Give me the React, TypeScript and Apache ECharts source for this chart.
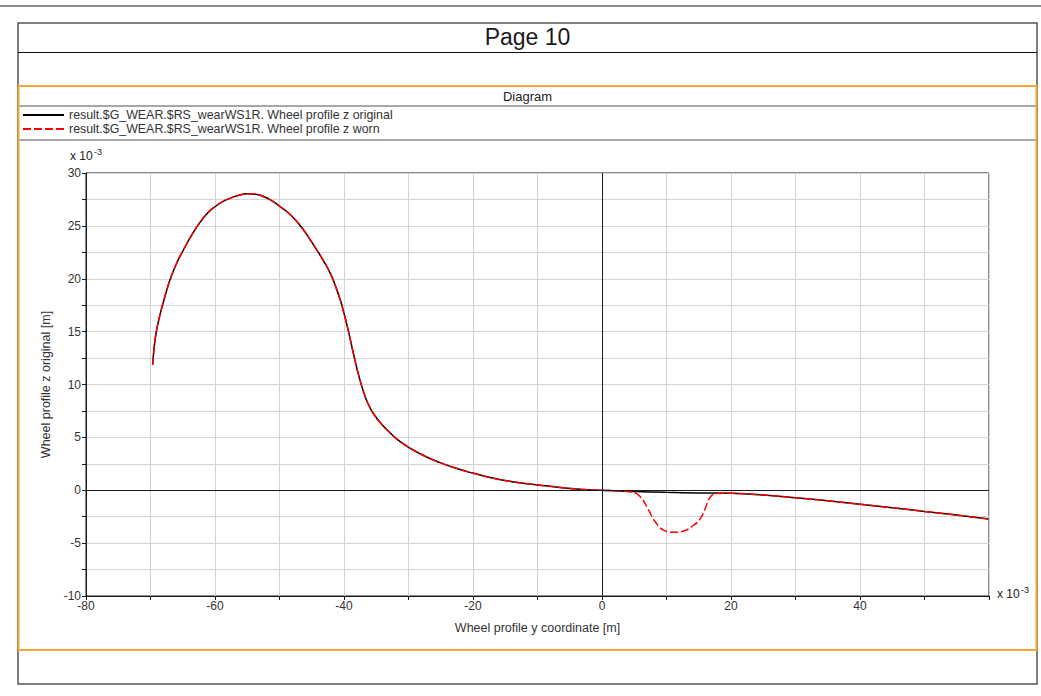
import React, { useEffect, useRef } from "react";
import * as echarts from "echarts";

// Wheel profile y coordinate (x 10^-3 m) and z (x 10^-3 m)
const origY = [
  -69.67, -69.5, -69.25, -68.9, -68.4, -67.8, -67.0, -66.0, -64.9, -63.6, -62.3, -61.1, -59.95,
  -58.8, -57.6, -56.3, -55.0, -53.7, -52.5, -51.4, -49.9, -48.3, -46.5, -45.2, -44.2, -43.2,
  -42.1, -41.35, -40.6, -40.05, -39.5, -39.0, -38.5, -37.7, -36.7, -36.0, -35.4, -34.4, -33.3,
  -31.3, -28.2, -25.1, -22.0, -19.9, -16.8, -13.7, -9.9, -6.5, -3.4, 0, 2.8, 5.0, 10.0, 15.0,
  20.0, 25.0, 30.0, 35.0, 40.0, 45.0, 50.0, 55.0, 59.9,
];
const origZ = [
  11.85, 13.1, 14.4, 15.6, 16.9, 18.25, 19.85, 21.4, 22.72, 24.15, 25.35, 26.25, 26.83, 27.3,
  27.62, 27.9, 28.03, 28.0, 27.78, 27.45, 26.83, 26.05, 24.8, 23.64, 22.71, 21.72, 20.48, 19.36,
  18.03, 16.84, 15.52, 14.2, 12.82, 10.82, 8.82, 7.84, 7.21, 6.41, 5.7, 4.6, 3.45, 2.61, 1.96,
  1.6, 1.13, 0.79, 0.5, 0.26, 0.1, 0, -0.08, -0.12, -0.2, -0.25, -0.29, -0.45, -0.7, -1.0, -1.32,
  -1.65, -2.0, -2.35, -2.72,
];
const wornY = [
  -69.67, -69.5, -69.25, -68.9, -68.4, -67.8, -67.0, -66.0, -64.9, -63.6, -62.3, -61.1, -59.95,
  -58.8, -57.6, -56.3, -55.0, -53.7, -52.5, -51.4, -49.9, -48.3, -46.5, -45.2, -44.2, -43.2,
  -42.1, -41.35, -40.6, -40.05, -39.5, -39.0, -38.5, -37.7, -36.7, -36.0, -35.4, -34.4, -33.3,
  -31.3, -28.2, -25.1, -22.0, -19.9, -16.8, -13.7, -9.9, -6.5, -3.4, 0, 2.8, 4.6, 5.94, 7.22,
  8.26, 9.55, 11.1, 12.65, 14.2, 15.24, 16.0, 16.8, 17.8, 20.0, 25.0, 30.0, 35.0, 40.0, 45.0,
  50.0, 55.0, 59.9,
];
const wornZ = [
  11.85, 13.1, 14.4, 15.6, 16.9, 18.25, 19.85, 21.4, 22.72, 24.15, 25.35, 26.25, 26.83, 27.3,
  27.62, 27.9, 28.03, 28.0, 27.78, 27.45, 26.83, 26.05, 24.8, 23.64, 22.71, 21.72, 20.48, 19.36,
  18.03, 16.84, 15.52, 14.2, 12.82, 10.82, 8.82, 7.84, 7.21, 6.41, 5.7, 4.6, 3.45, 2.61, 1.96,
  1.6, 1.13, 0.79, 0.5, 0.26, 0.1, 0, -0.08, -0.17, -0.62, -1.88, -2.98, -3.77, -3.98, -3.85,
  -3.31, -2.68, -1.73, -0.63, -0.31, -0.29, -0.45, -0.7, -1.0, -1.32, -1.65, -2.0, -2.35, -2.72,
];

const seriesNames = [
  "result.$G_WEAR.$RS_wearWS1R. Wheel profile z original",
  "result.$G_WEAR.$RS_wearWS1R. Wheel profile z worn",
];
const pageTitle = "Page 10";
const panelTitle = "Diagram";
const xName = "Wheel profile y coordinate [m]";
const yName = "Wheel profile z original [m]";
const scaleText = "x 10";
const scaleExp = "-3";

const FONT = "'Liberation Sans', Arial, Helvetica, sans-serif";

export default function App() {
  const ref = useRef<HTMLDivElement>(null);

  useEffect(() => {
    if (!ref.current) return;
    const chart = echarts.init(ref.current, undefined, { renderer: "svg" });
    const zip = (a: number[], b: number[]) => a.map((v, i) => [v, b[i]]);

    const option: any = {
      animation: false,
      textStyle: { fontFamily: FONT },
      grid: {
        left: 86,
        top: 173,
        width: 903,
        height: 423,
        show: true,
        borderColor: "#1a1a1a",
        borderWidth: 1,
        backgroundColor: "transparent",
      },
      legend: {
        orient: "vertical",
        left: 22,
        top: 108,
        padding: 0,
        itemWidth: 41,
        itemHeight: 14,
        itemGap: 0,
        selectedMode: false,
        itemStyle: { opacity: 0 },
        textStyle: { fontSize: 12.4, color: "#333", fontFamily: FONT, lineHeight: 14 },
        data: seriesNames,
      },
      xAxis: {
        type: "value",
        min: -80,
        max: 60,
        interval: 10,
        name: xName,
        nameLocation: "middle",
        nameGap: 25,
        nameTextStyle: { fontSize: 12.5, color: "#333", fontFamily: FONT },
        axisLine: { show: true, onZero: false, lineStyle: { color: "#1a1a1a", width: 1 } },
        axisTick: { show: true, inside: false, length: 4, lineStyle: { color: "#1a1a1a" } },
        axisLabel: {
          margin: 4,
          fontSize: 12,
          color: "#333",
          fontFamily: FONT,
          showMinLabel: true,
          showMaxLabel: true,
          formatter: (v: number) => (v % 20 === 0 && v <= 40 ? String(v) : ""),
        },
        splitLine: { show: true, lineStyle: { color: "#d4d4d4", width: 1 } },
      },
      yAxis: {
        type: "value",
        min: -10,
        max: 30,
        interval: 2.5,
        name: yName,
        nameLocation: "middle",
        nameGap: 30,
        nameTextStyle: { fontSize: 12.5, color: "#333", fontFamily: FONT },
        axisLine: { show: true, onZero: false, lineStyle: { color: "#1a1a1a", width: 1 } },
        axisTick: { show: true, inside: false, length: 4, lineStyle: { color: "#1a1a1a" } },
        axisLabel: {
          margin: 5,
          fontSize: 12,
          color: "#333",
          fontFamily: FONT,
          showMinLabel: true,
          showMaxLabel: true,
          formatter: (v: number) => (v % 5 === 0 ? String(v) : ""),
        },
        splitLine: { show: true, lineStyle: { color: "#d4d4d4", width: 1 } },
      },
      series: [
        {
          name: seriesNames[0],
          type: "line",
          data: zip(origY, origZ),
          symbol: "none",
          smooth: 0.5,
          lineStyle: { color: "#000", width: 1.5, type: "solid" },
          itemStyle: { color: "#000" },
          z: 3,
          markLine: {
            silent: true,
            symbol: "none",
            label: { show: false },
            lineStyle: { color: "#1a1a1a", type: "solid", width: 1 },
            data: [{ xAxis: 0 }, { yAxis: 0 }],
          },
        },
        {
          name: seriesNames[1],
          type: "line",
          data: zip(wornY, wornZ),
          symbol: "none",
          smooth: 0.5,
          lineStyle: { color: "#ff0000", width: 1.5, type: [8, 3] },
          itemStyle: { color: "#ff0000" },
          z: 4,
        },
      ],
      graphic: [
        { type: "line", silent: true, shape: { x1: 0, y1: 6, x2: 1041, y2: 6 }, style: { stroke: "#8a8a8a", lineWidth: 2 } },
        { type: "rect", silent: true, shape: { x: 18, y: 23, width: 1019, height: 661 }, style: { fill: "none", stroke: "#555", lineWidth: 1.5 } },
        { type: "line", silent: true, shape: { x1: 18, y1: 52.5, x2: 1037, y2: 52.5 }, style: { stroke: "#111", lineWidth: 1 } },
        {
          type: "text",
          silent: true,
          x: 527.5,
          y: 37,
          style: { text: pageTitle, fontSize: 23, fill: "#1a1a1a", align: "center", verticalAlign: "middle", fontFamily: FONT },
        },
        { type: "line", silent: true, shape: { x1: 19, y1: 106, x2: 1036, y2: 106 }, style: { stroke: "#8a8a8a", lineWidth: 1.5 } },
        { type: "line", silent: true, shape: { x1: 19, y1: 140, x2: 1036, y2: 140 }, style: { stroke: "#8a8a8a", lineWidth: 1.5 } },
        { type: "rect", silent: true, shape: { x: 18.5, y: 86, width: 1018, height: 564 }, style: { fill: "none", stroke: "#f7a531", lineWidth: 2 } },
        {
          type: "text",
          silent: true,
          x: 527.5,
          y: 96.5,
          style: { text: panelTitle, fontSize: 13, fill: "#222", align: "center", verticalAlign: "middle", fontFamily: FONT },
        },
        {
          type: "text",
          silent: true,
          x: 70,
          y: 162,
          style: { text: scaleText, fontSize: 12, fill: "#222", align: "left", verticalAlign: "bottom", fontFamily: FONT },
        },
        {
          type: "text",
          silent: true,
          x: 94,
          y: 156,
          style: { text: scaleExp, fontSize: 9, fill: "#222", align: "left", verticalAlign: "bottom", fontFamily: FONT },
        },
        {
          type: "text",
          silent: true,
          x: 997,
          y: 600,
          style: { text: scaleText, fontSize: 12, fill: "#222", align: "left", verticalAlign: "bottom", fontFamily: FONT },
        },
        {
          type: "text",
          silent: true,
          x: 1021,
          y: 594,
          style: { text: scaleExp, fontSize: 9, fill: "#222", align: "left", verticalAlign: "bottom", fontFamily: FONT },
        },
      ],
    };

    chart.setOption(option);
    return () => chart.dispose();
  }, []);

  return (
    <div
      ref={ref}
      style={{ position: "absolute", left: 0, top: 0, width: 1041, height: 696, background: "#fff" }}
    />
  );
}
